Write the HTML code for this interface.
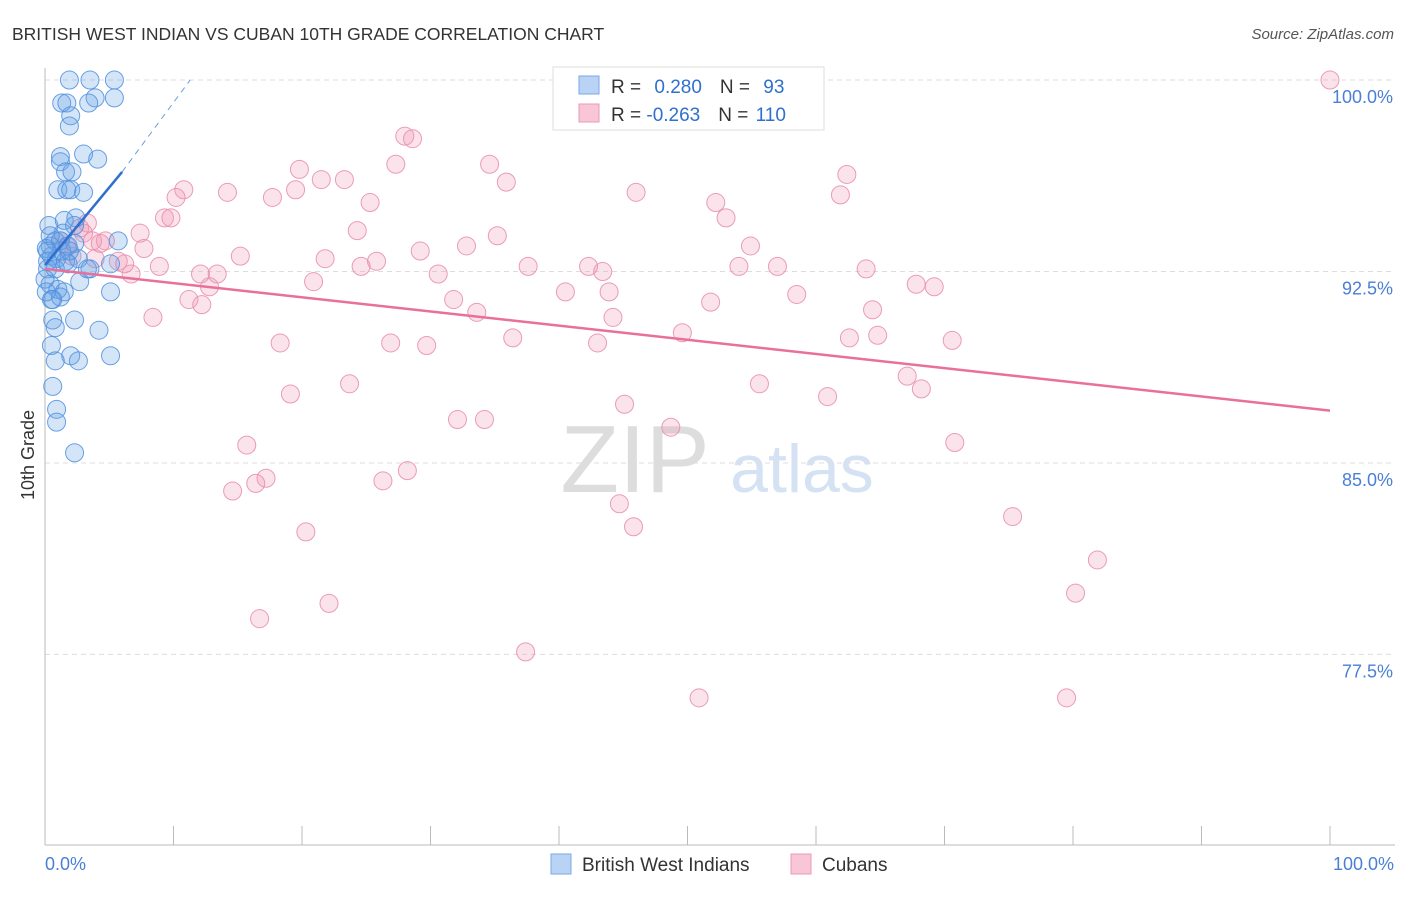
<!DOCTYPE html>
<html><head><meta charset="utf-8"><style>
body{margin:0;background:#fff;font-family:"Liberation Sans",sans-serif}
svg text{font-family:"Liberation Sans",sans-serif}
</style></head><body>
<svg width="1406" height="892" xmlns="http://www.w3.org/2000/svg">
<text x="12" y="40" font-size="17.5" fill="#333">BRITISH WEST INDIAN VS CUBAN 10TH GRADE CORRELATION CHART</text>
<text x="1394" y="39" font-size="15" fill="#555" text-anchor="end" font-style="italic">Source: ZipAtlas.com</text>
<g>
<text x="635" y="492" font-size="96" fill="#ddd" text-anchor="middle" font-family="Liberation Serif">ZIP</text>
<text x="802" y="492" font-size="68" fill="#d4e2f4" text-anchor="middle">atlas</text>
</g>
<g id="grid"></g>
<g id="axes"></g>
<g id="pts"></g>
<g id="trend"></g>
<text transform="translate(34,455) rotate(-90)" font-size="18" fill="#333" text-anchor="middle">10th Grade</text>
<text x="45" y="870" font-size="18" fill="#4a7fd6">0.0%</text>
<text x="1394" y="870" font-size="18" fill="#4a7fd6" text-anchor="end">100.0%</text>
<g>
<rect x="553" y="67" width="271" height="63" fill="#fff" stroke="#ddd"/>
<rect x="579" y="76" width="20" height="18" fill="#b8d3f4" stroke="#7aa9e6"/>
<rect x="579" y="104" width="20" height="18" fill="#f8c6d6" stroke="#ea9ab5"/>
<text x="611" y="93" font-size="19" fill="#333">R = <tspan fill="#2f6fd0" dx="8">0.280</tspan><tspan dx="18">N = </tspan><tspan fill="#2f6fd0" dx="8">93</tspan></text>
<text x="611" y="121" font-size="19" fill="#333">R = <tspan fill="#2f6fd0">-0.263</tspan><tspan dx="18">N = </tspan><tspan fill="#2f6fd0" dx="2">110</tspan></text>
</g>
<g>
<rect x="551" y="854" width="20" height="20" fill="#b8d3f4" stroke="#7aa9e6"/>
<text x="582" y="871" font-size="19" fill="#333">British West Indians</text>
<rect x="791" y="854" width="20" height="20" fill="#f8c6d6" stroke="#ea9ab5"/>
<text x="822" y="871" font-size="19" fill="#333">Cubans</text>
</g>
</svg>
<script>
const yTicks=[100,92.5,85,77.5];
const yTickLabels=["100.0%","92.5%","85.0%","77.5%"];
const blueX=[1.9,3.5,5.4,1.3,1.7,3.9,5.4,3.4,2.0,1.9,3.0,4.1,1.2,1.2,1.6,2.1,1.0,1.7,2.0,3.0,0.3,1.5,2.4,2.3,1.4,5.7,0.4,0.8,1.2,1.8,2.3,0.5,0.9,1.6,2.6,0.2,0.8,1.8,3.5,5.1,0.4,1.0,1.5,2.7,5.1,0.5,1.2,0.6,0.8,2.3,4.2,0.5,2.0,2.6,0.8,0.6,0.9,0.9,2.3,5.1,3.3,0.4,0.1,0.2,1.3,1.9,0.0,0.1,0.6,0.2];
const blueY=[100,100,100,99.1,99.1,99.3,99.3,99.1,98.6,98.2,97.1,96.9,97.0,96.8,96.4,96.4,95.7,95.7,95.7,95.6,94.3,94.5,94.6,94.3,94.0,93.7,93.5,93.7,93.7,93.5,93.6,93.1,93.0,92.9,93.0,92.6,92.6,92.8,92.6,92.8,92.0,91.8,91.7,92.1,91.7,91.4,91.5,90.6,90.3,90.6,90.2,89.6,89.2,89.0,89.0,88.0,87.1,86.6,85.4,89.2,92.6,93.9,93.4,93.3,93.3,93.3,92.2,91.7,91.4,92.9];
const pinkX=[100,28.0,28.6,27.3,34.6,19.8,21.5,23.3,35.9,62.4,10.8,46.0,14.2,19.5,17.7,10.2,25.3,61.9,52.2,53.0,9.3,9.8,3.3,24.3,35.2,7.4,54.9,32.8,29.2,15.2,4.7,7.7,21.8,25.8,24.6,37.6,42.3,54.0,57.0,5.7,8.9,6.7,12.1,13.4,30.6,43.4,63.9,20.9,12.8,67.8,69.2,40.5,43.9,58.5,31.8,11.2,12.2,51.8,33.6,44.2,64.4,8.4,49.6,62.6,64.8,36.4,43.0,18.3,26.9,29.7,70.6,67.1,68.2,55.6,23.7,19.1,60.9,45.1,32.1,34.2,48.7,15.7,70.8,28.2,17.2,16.4,14.6,26.3,44.7,75.3,45.8,20.3,81.9,80.2,22.1,16.7,37.4,50.9,79.5,3.7,4.3,2.7,3.0,1.2,1.7,3.9,6.2,2.1];
const pinkY=[100,97.8,97.7,96.7,96.7,96.5,96.1,96.1,96.0,96.3,95.7,95.6,95.6,95.7,95.4,95.4,95.2,95.5,95.2,94.6,94.6,94.6,94.4,94.1,93.9,94.0,93.5,93.5,93.3,93.1,93.7,93.4,93.0,92.9,92.7,92.7,92.7,92.7,92.7,92.9,92.7,92.4,92.4,92.4,92.4,92.5,92.6,92.1,91.9,92.0,91.9,91.7,91.7,91.6,91.4,91.4,91.2,91.3,90.9,90.7,91.0,90.7,90.1,89.9,90.0,89.9,89.7,89.7,89.7,89.6,89.8,88.4,87.9,88.1,88.1,87.7,87.6,87.3,86.7,86.7,86.4,85.7,85.8,84.7,84.4,84.2,83.9,84.3,83.4,82.9,82.5,82.3,81.2,79.9,79.5,78.9,77.6,75.8,75.8,93.7,93.6,94.2,94.0,93.7,93.5,93.0,92.8,93.1];
const blueTrendX=[0,6,11.3];
const blueTrendY=[92.75,96.4,100];
const pinkTrendX=[0,100];
const pinkTrendY=[92.6,87.05];
const NS="http://www.w3.org/2000/svg";
const sx=v=>45+v*12.85;
const sy=v=>80+(100-v)*25.53;
function mk(tag,attrs,parent){const e=document.createElementNS(NS,tag);for(const k in attrs)e.setAttribute(k,attrs[k]);document.getElementById(parent).appendChild(e);return e;}
yTicks.forEach((t,i)=>{
 const g=mk('line',{x1:45,x2:1395,y1:sy(t),y2:sy(t),stroke:'#ddd','stroke-dasharray':'5,4'},'grid');
 
 
 const l=mk('text',{x:1393,y:sy(t)+23,'font-size':18,fill:'#4a7fd6','text-anchor':'end'},'grid');
 l.textContent=yTickLabels[i];
 
 
});
const ya=mk('line',{x1:45,x2:45,y1:68,y2:845,stroke:'#bbb'},'axes');


const xa=mk('line',{x1:45,x2:1395,y1:845,y2:845,stroke:'#bbb'},'axes');


for(let i=1;i<=10;i++){
 const t=mk('line',{x1:sx(i*10),x2:sx(i*10),y1:845,y2:826,stroke:'#bbb'},'axes');
 
 
}
pinkX.forEach((x,i)=>{
 const c=mk('circle',{cx:sx(x),cy:sy(pinkY[i]),r:9,fill:'rgba(242,150,182,0.27)',stroke:'rgba(232,140,172,0.85)','stroke-width':1},'pts');
 
 
});
blueX.forEach((x,i)=>{
 const c=mk('circle',{cx:sx(x),cy:sy(blueY[i]),r:9,fill:'rgba(100,160,230,0.27)',stroke:'rgba(80,145,222,0.85)','stroke-width':1},'pts');
 
 
});
const b1=mk('line',{x1:sx(blueTrendX[0]),y1:sy(blueTrendY[0]),x2:sx(blueTrendX[1]),y2:sy(blueTrendY[1]),stroke:'#2f6fd0','stroke-width':2.5},'trend');


const b2=mk('line',{x1:sx(blueTrendX[1]),y1:sy(blueTrendY[1]),x2:sx(blueTrendX[2]),y2:sy(blueTrendY[2]),stroke:'#6a9ee0','stroke-width':1,'stroke-dasharray':'6,5'},'trend');


const p1=mk('line',{x1:sx(pinkTrendX[0]),y1:sy(pinkTrendY[0]),x2:sx(pinkTrendX[1]),y2:sy(pinkTrendY[1]),stroke:'#e8709a','stroke-width':2.5},'trend');


</script>
</body></html>
